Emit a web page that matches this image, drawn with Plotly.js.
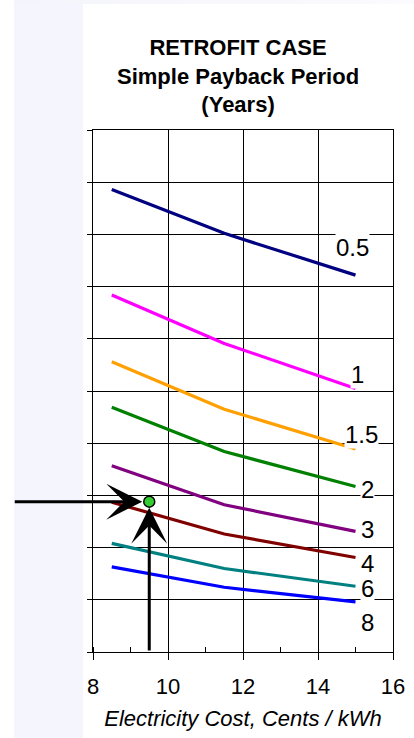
<!DOCTYPE html>
<html>
<head>
<meta charset="utf-8">
<script src="https://cdn.plot.ly/plotly-3.0.1.min.js"></script>
<style>
  html, body { margin: 0; padding: 0; background: #ffffff; }
  #bgLeft { position: absolute; left: 14px; top: 0; width: 69px; height: 738px; background: #f5f5fe; }
  #bgTop { position: absolute; left: 14px; top: 0; width: 400px; height: 4px; background: linear-gradient(to right, #f4f4fc, #fbfbfd); }
  #chart { position: absolute; left: 0; top: 0; width: 414px; height: 738px; }
</style>
</head>
<body>
<div id="bgLeft"></div>
<div id="bgTop"></div>
<div id="chart"></div>
<script>
// Electricity cost (cents/kWh) sample points for every curve
const costX = [8.5, 11.5, 15];

// Curve names (payback period, years)
const curveNames = ["0.5", "1", "1.5", "2", "3", "4", "6", "8"];

// Curve values (unlabelled vertical scale)
const y05 = [8.86, 8.02, 7.22];
const y1  = [6.84, 5.91, 5.05];
const y15 = [5.56, 4.65, 3.89];
const y2  = [4.69, 3.84, 3.17];
const y3  = [3.57, 2.82, 2.31];
const y4  = [2.87, 2.26, 1.81];
const y6  = [2.08, 1.60, 1.26];
const y8  = [1.63, 1.24, 0.96];

// Curve label positions
const labelX = [14.93, 15.04, 15.17, 15.33, 15.33, 15.33, 15.33, 15.33];
const labelY = [7.75, 5.31, 4.16, 3.12, 2.34, 1.69, 1.21, 0.56];

// Example point
const pointX = [9.5];
const pointY = [2.88];

// X tick labels
const xTicks = [8, 10, 12, 14, 16];

const colors = ["#000080", "#ff00ff", "#ffa000", "#008000", "#800080", "#800000", "#008080", "#0000ff"];
const series = [y05, y1, y15, y2, y3, y4, y6, y8];

const traces = series.map((ys, i) => ({
  x: costX, y: ys, type: "scatter", mode: "lines",
  name: curveNames[i],
  line: { color: colors[i], width: 3.2 },
  hoverinfo: "skip"
}));

traces.push({
  x: pointX, y: pointY, type: "scatter", mode: "markers",
  marker: { size: 11, color: "#33cc33", line: { color: "#000000", width: 1.5 } },
  hoverinfo: "skip", cliponaxis: false
});

const annotations = curveNames.map((n, i) => ({
  x: labelX[i], y: labelY[i], xref: "x", yref: "y",
  text: n, showarrow: false, bgcolor: "#ffffff",
  font: { family: "Liberation Sans, Arial, sans-serif", size: 24, color: "#000000" },
  borderpad: 0
}));

// horizontal arrow from left edge to the point
annotations.push({
  x: pointX[0], y: pointY[0], xref: "x", yref: "y",
  ax: -136, ay: 0, axref: "pixel", ayref: "pixel",
  text: "", showarrow: true, arrowhead: 3, arrowsize: 2, arrowwidth: 3,
  arrowcolor: "#000000", standoff: 7
});
// vertical arrow from x-axis to the point
annotations.push({
  x: pointX[0], y: pointY[0], xref: "x", yref: "y",
  ax: pointX[0], ay: 0, axref: "x", ayref: "y",
  text: "", showarrow: true, arrowhead: 3, arrowsize: 2, arrowwidth: 3,
  arrowcolor: "#000000", standoff: 6
});

const layout = {
  width: 414, height: 738,
  margin: { l: 93, r: 21, t: 130, b: 86 },
  paper_bgcolor: "rgba(0,0,0,0)",
  plot_bgcolor: "#ffffff",
  showlegend: false,
  font: { family: "Liberation Sans, Arial, sans-serif", color: "#000000" },
  title: {
    text: "<b>RETROFIT CASE<br>Simple Payback Period<br>(Years)</b>",
    font: { size: 22, color: "#000000" },
    x: 0.575, xanchor: "center", y: 1 - 55 / 738, yanchor: "top"
  },
  xaxis: {
    range: [8, 16], tickvals: xTicks, ticktext: xTicks.map(String),
    showgrid: true, gridcolor: "#000000", gridwidth: 1,
    showline: true, linecolor: "#000000", linewidth: 1, mirror: true,
    ticks: "outside", ticklen: 7, tickcolor: "#000000",
    ticklabelstandoff: 8,
    minor: { dtick: 1, ticks: "inside", ticklen: 5, tickcolor: "#000000", showgrid: false },
    zeroline: false,
    tickfont: { size: 22 },
    title: { text: "<i>Electricity Cost, Cents / kWh</i>", font: { size: 22 }, standoff: 12 },
    automargin: false,
    fixedrange: true
  },
  yaxis: {
    range: [0, 10], dtick: 1, showticklabels: false,
    showgrid: true, gridcolor: "#000000", gridwidth: 1,
    showline: true, linecolor: "#000000", linewidth: 1, mirror: true,
    ticks: "outside", ticklen: 5, tickcolor: "#000000",
    zeroline: false, fixedrange: true
  },
  annotations: annotations
};

Plotly.newPlot("chart", traces, layout, { displayModeBar: false, staticPlot: true });
</script>
</body>
</html>
